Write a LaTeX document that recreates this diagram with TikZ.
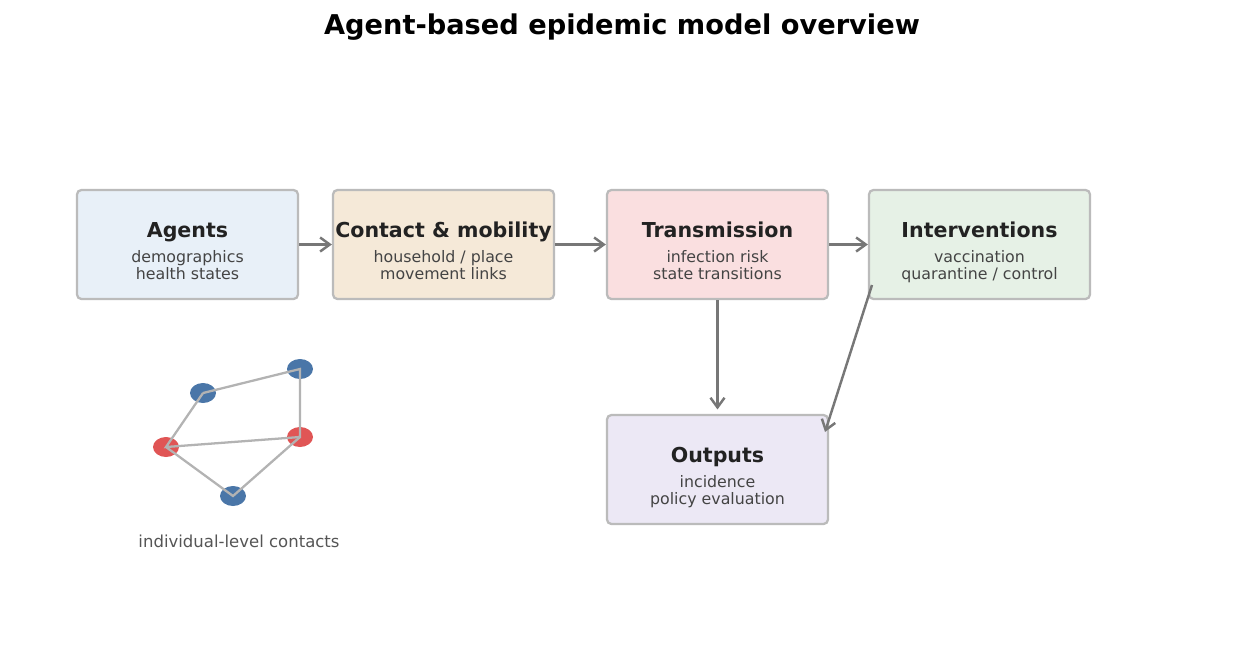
\documentclass[tikz,border=0pt]{standalone}
\usepackage{fontspec}
\setmainfont{DejaVu Sans}
\usepackage{tikz}
\usetikzlibrary{arrows.meta, shapes.geometric}

\definecolor{boxline}{HTML}{BBBBBB}
\definecolor{flowgray}{HTML}{777777}
\definecolor{linkgray}{HTML}{B3B3B3}
\definecolor{titletext}{HTML}{222222}
\definecolor{subtext}{HTML}{444444}
\definecolor{captext}{HTML}{555555}
\definecolor{agentfill}{HTML}{E8F0F8}
\definecolor{contactfill}{HTML}{F5E9D8}
\definecolor{transfill}{HTML}{FADFE0}
\definecolor{interfill}{HTML}{E6F1E6}
\definecolor{outfill}{HTML}{ECE8F5}
\definecolor{suscblue}{HTML}{4A76A8}
\definecolor{infred}{HTML}{E05555}

\tikzset{
  stagebox/.style={draw=boxline, line width=1.3pt, rounded corners=2.5pt,
    minimum width=4.42cm, minimum height=2.18cm, inner sep=0pt},
  stagetitle/.style={font=\fontsize{11.7}{14}\selectfont\bfseries, text=titletext, inner sep=0pt, anchor=base},
  stagetext/.style={font=\fontsize{9}{9.7}\selectfont, text=subtext, inner sep=0pt, anchor=base},
  flow/.style={draw=flowgray, line width=1.4pt, -{Straight Barb[length=5.5pt, width=8pt]}},
  agent/.style={ellipse, minimum width=0.52cm, minimum height=0.4cm, inner sep=0pt},
  link/.style={draw=linkgray, line width=1.3pt}
}

% one stage of the pipeline: name, x, y, fill, title, line 1, line 2
\newcommand{\stage}[7]{%
  \node[stagebox, fill=#4] (#1) at (#2,#3) {};
  \node[stagetitle] (#1-title) at (#2,#3-7) {#5};
  \node[stagetext] (#1-one) at (#2,#3+18) {#6};
  \node[stagetext] (#1-two) at (#2,#3+35) {#7};
}

\begin{document}
\begin{tikzpicture}[x=0.02cm, y=-0.02cm]
  \useasboundingbox (0,0) rectangle (1245,657);

  % Title
  \node[font=\fontsize{15.5}{18}\selectfont\bfseries, anchor=base] (title) at (622,34) {Agent-based epidemic model overview};

  % Stages
  \stage{agents}{187.5}{244.5}{agentfill}{Agents}{demographics}{health states}
  \stage{contact}{443.5}{244.5}{contactfill}{Contact \& mobility}{household / place}{movement links}
  \stage{trans}{717.5}{244.5}{transfill}{Transmission}{infection risk}{state transitions}
  \stage{inter}{979.5}{244.5}{interfill}{Interventions}{vaccination}{quarantine / control}
  \stage{outputs}{717.5}{469.5}{outfill}{Outputs}{incidence}{policy evaluation}

  % Flows
  \coordinate (inter-out) at (872,285);
  \coordinate (outputs-in) at (825,432);
  \draw[flow] (agents) -- (contact);
  \draw[flow] (contact) -- (trans);
  \draw[flow] (trans) -- (inter);
  \draw[flow, shorten >=2.5pt] (trans) -- (outputs);
  \draw[flow] (inter-out) -- (outputs-in);

  % Contact network
  \node[agent, fill=suscblue] (a1) at (203,393) {};
  \node[agent, fill=suscblue] (a2) at (300,369) {};
  \node[agent, fill=infred] (a3) at (166,447) {};
  \node[agent, fill=infred] (a4) at (300,437) {};
  \node[agent, fill=suscblue] (a5) at (233,496) {};
  \draw[link] (a1.center) -- (a2.center) -- (a4.center) -- (a3.center) -- (a1.center);
  \draw[link] (a3.center) -- (a5.center) -- (a4.center);
  \node[font=\fontsize{9.4}{11}\selectfont, text=captext] (netcap) at (239,541) {individual-level contacts};
\end{tikzpicture}
\end{document}
